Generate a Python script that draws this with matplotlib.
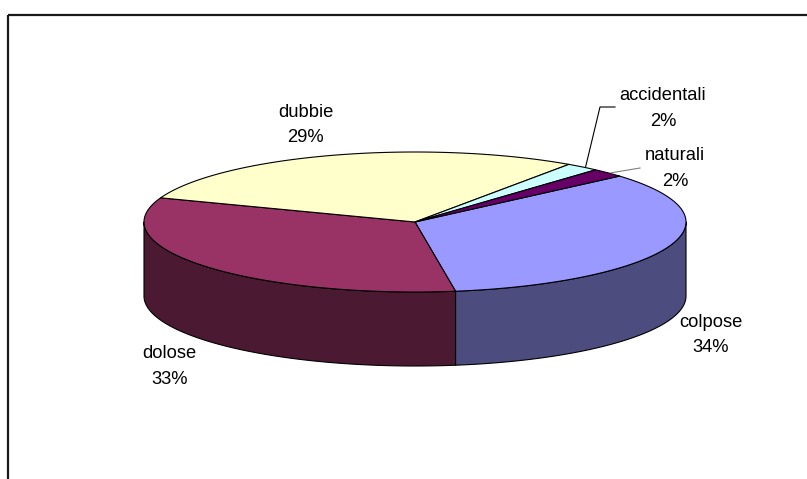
import numpy as np
import matplotlib
matplotlib.use("Agg")
import matplotlib.pyplot as plt
from matplotlib.patches import Polygon, Rectangle

# Data
categories = ["colpose", "dolose", "dubbie", "accidentali", "naturali"]
percentages = [34, 33, 29, 2, 2]

# Styles
top_colors = ["#9999FF", "#993366", "#FFFFCC", "#CCFFFF", "#660066"]
side_colors = ["#4C4C7F", "#4C1933", "#7F7F66", "#667F7F", "#330033"]

# Layout of the 3-D pie in pixel units
W, H = 807, 479
CX, CY = 415.0, 222.0       # centre of top face
RX, RY = 271.0, 70.0        # ellipse semi-axes of top face
DEPTH = 74.0                # thickness of the pie
START_DEG = 41.0            # angle of first slice edge, slices go clockwise

# Label placement (centre x, baseline y of first line)
label_pos = {
    "colpose": (710.5, 327),
    "dolose": (169.5, 358),
    "dubbie": (305.5, 117),
    "accidentali": (663, 100),
    "naturali": (675, 160),
}
LINE_GAP = 25.5

plt.rcParams["font.family"] = ["Liberation Sans", "DejaVu Sans"]

fig = plt.figure(figsize=(W / 100, H / 100), dpi=100)
ax = fig.add_axes([0, 0, 1, 1])
ax.set_xlim(0, W)
ax.set_ylim(H, 0)
ax.axis("off")

# chart area frame
ax.add_patch(Rectangle((7.5, 14.5), W + 20, H + 20, fill=False,
                       edgecolor="#1a1a1a", linewidth=1.6, zorder=0))


def ell(theta_deg, drop=0.0):
    t = np.radians(theta_deg)
    return CX + RX * np.cos(t), CY - RY * np.sin(t) + drop


total = float(sum(percentages))
spans = [p / total * 360.0 for p in percentages]
bounds = []
t = START_DEG
for s in spans:
    bounds.append((t, t - s))
    t -= s

# side walls: only the front half (sin < 0) is visible
for (t0, t1), col in zip(bounds, side_colors):
    for k in range(-2, 2):
        lo, hi = -180 + 360 * k, 0 + 360 * k
        a, b = max(t1, lo), min(t0, hi)
        if a < b:
            th = np.linspace(b, a, 200)
            xt, yt = ell(th)
            xb, yb = ell(th, DEPTH)
            xs = np.concatenate([xt, xb[::-1]])
            ys = np.concatenate([yt, yb[::-1]])
            ax.add_patch(Polygon(np.column_stack([xs, ys]), closed=True,
                                 facecolor=col, edgecolor="black",
                                 linewidth=0.8, joinstyle="round", zorder=2))

# top faces
for (t0, t1), col in zip(bounds, top_colors):
    th = np.linspace(t0, t1, 200)
    xt, yt = ell(th)
    xs = np.concatenate([[CX], xt])
    ys = np.concatenate([[CY], yt])
    ax.add_patch(Polygon(np.column_stack([xs, ys]), closed=True,
                         facecolor=col, edgecolor="black",
                         linewidth=0.8, joinstyle="round", zorder=3))

# leader lines for the two thin slices
mid = {c: (t0 + t1) / 2 for c, (t0, t1) in zip(categories, bounds)}
x0, y0 = ell(mid["accidentali"])
ax.plot([x0 + 3, 600, 615], [y0, 107, 107], color="black", lw=0.8, zorder=4)
x0, y0 = ell(mid["naturali"])
ax.plot([x0 + 3, 640], [y0, 168], color="#808080", lw=0.8, zorder=4)

# labels
for cat, pct in zip(categories, percentages):
    x, y = label_pos[cat]
    ax.text(x, y, cat, ha="center", va="baseline", fontsize=13.2, color="black")
    ax.text(x, y + LINE_GAP, f"{pct}%", ha="center", va="baseline",
            fontsize=13.2, color="black")

fig.savefig("out.png", dpi=100)
